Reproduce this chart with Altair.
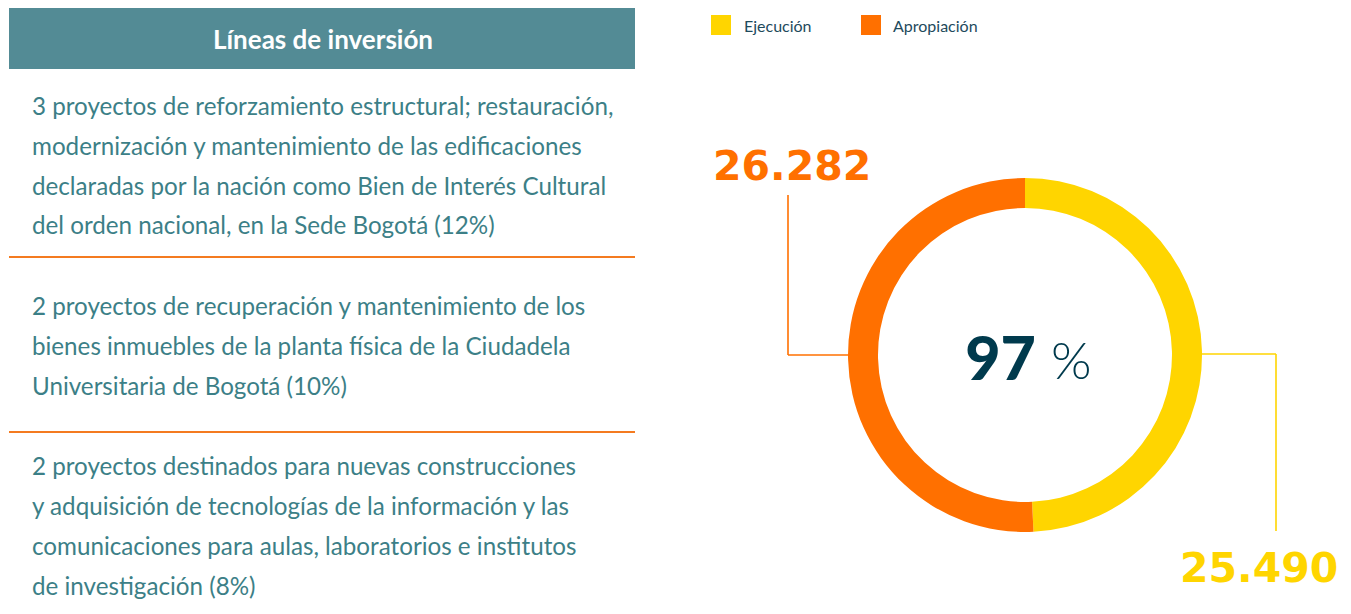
import altair as alt
import pandas as pd

# ---------------- data ----------------
categories = ["Ejecución", "Apropiación"]
values = [25490, 26282]
value_labels = ["25.490", "26.282"]
pct_label = "97"
pct_sign = "%"
colors = ["#FFD500", "#FF7000"]

header_title = "Líneas de inversión"
block1 = [
    "3 proyectos de reforzamiento estructural; restauración,",
    "modernización y mantenimiento de las edificaciones",
    "declaradas por la nación como Bien de Interés Cultural",
    "del orden nacional, en la Sede Bogotá (12%)",
]
block2 = [
    "2 proyectos de recuperación y mantenimiento de los",
    "bienes inmuebles de la planta física de la Ciudadela",
    "Universitaria de Bogotá (10%)",
]
block3 = [
    "2 proyectos destinados para nuevas construcciones",
    "y adquisición de tecnologías de la información y las",
    "comunicaciones para aulas, laboratorios e institutos",
    "de investigación (8%)",
]

# ---------------- layout (page pixel coordinates) ----------------
W, H = 1335, 598
xs = alt.Scale(domain=[8, 8 + W], range=[0, W], nice=False, zero=False)
ys = alt.Scale(domain=[8, 8 + H], range=[0, H], nice=False, zero=False)
TEAL = "#3C7F87"
HEADER = "#538B95"
DARK = "#003A4D"
SEP = "#F47B20"
FONT = "Lato"


def X(f="x"):
    return alt.X(f"{f}:Q", scale=xs, axis=None)


def Y(f="y"):
    return alt.Y(f"{f}:Q", scale=ys, axis=None)


layers = []

# header box
hdr = pd.DataFrame({"x": [9], "x2": [635], "y": [8], "y2": [69]})
layers.append(
    alt.Chart(hdr).mark_rect(color=HEADER).encode(
        x=X(), x2="x2:Q", y=Y(), y2="y2:Q"
    )
)
layers.append(
    alt.Chart(pd.DataFrame({"t": [header_title], "x": [323], "y": [49]}))
    .mark_text(font=FONT, fontSize=26, fontWeight="bold", color="white",
               align="center", baseline="alphabetic")
    .encode(x=X(), y=Y(), text="t:N")
)

# separators
seps = pd.DataFrame({"x": [9, 9], "x2": [635, 635], "y": [257, 432]})
layers.append(
    alt.Chart(seps).mark_rule(color=SEP, strokeWidth=2).encode(
        x=X(), x2="x2:Q", y=Y()
    )
)

# body text
lines = block1 + block2 + block3
line_y = [115, 155, 195, 234, 315, 355, 395, 475, 515, 555, 595]
body = pd.DataFrame({"t": lines, "x": [32] * len(lines), "y": line_y})
layers.append(
    alt.Chart(body)
    .mark_text(font=FONT, fontSize=24.2, color=TEAL, align="left",
               baseline="alphabetic")
    .encode(x=X(), y=Y(), text="t:N")
)

# legend
leg = pd.DataFrame({
    "cat": categories,
    "x": [711, 861], "x2": [731, 881], "y": [15, 15], "y2": [35, 35],
    "tx": [744, 893], "ty": [32, 32],
})
color_scale = alt.Scale(domain=categories, range=colors)
layers.append(
    alt.Chart(leg).mark_rect().encode(
        x=X(), x2="x2:Q", y=Y(), y2="y2:Q",
        color=alt.Color("cat:N", scale=color_scale, legend=None),
    )
)
layers.append(
    alt.Chart(leg)
    .mark_text(font=FONT, fontSize=16, color="#1E4A5C", align="left",
               baseline="alphabetic")
    .encode(x=X("tx"), y=Y("ty"), text="cat:N")
)

# donut
donut = pd.DataFrame({
    "cat": categories, "value": values, "ord": [0, 1],
    "cx": [1025, 1025], "cy": [355, 355],
})
layers.append(
    alt.Chart(donut)
    .mark_arc(radius=177, radius2=147)
    .encode(
        x=X("cx"), y=Y("cy"),
        theta=alt.Theta("value:Q", stack=True),
        order=alt.Order("ord:Q"),
        color=alt.Color("cat:N", scale=color_scale, legend=None),
    )
)

# leader lines
segs = pd.DataFrame({
    "cat": ["Apropiación", "Apropiación", "Ejecución", "Ejecución"],
    "x": [788, 788, 1202, 1276],
    "x2": [788, 850, 1276, 1276],
    "y": [195, 355, 354, 354],
    "y2": [355, 355, 354, 531],
})
layers.append(
    alt.Chart(segs).mark_rule(strokeWidth=1.6).encode(
        x=X(), x2="x2:Q", y=Y(), y2="y2:Q",
        color=alt.Color("cat:N", scale=color_scale, legend=None),
    )
)

# value labels
vals = pd.DataFrame({
    "cat": categories, "t": value_labels,
    "x": [1180, 713], "y": [582, 180],
})
layers.append(
    alt.Chart(vals)
    .mark_text(font="DejaVu Sans", fontSize=41, fontWeight="bold",
               align="left", baseline="alphabetic")
    .encode(x=X(), y=Y(), text="t:N",
            color=alt.Color("cat:N", scale=color_scale, legend=None))
)

# center percentage
layers.append(
    alt.Chart(pd.DataFrame({"t": [pct_label], "x": [1036], "y": [380]}))
    .mark_text(font=FONT, fontSize=61, fontWeight=900, color=DARK,
               align="right", baseline="alphabetic")
    .encode(x=X(), y=Y(), text="t:N")
)
layers.append(
    alt.Chart(pd.DataFrame({"t": [pct_sign], "x": [1051], "y": [379]}))
    .mark_text(font=FONT, fontSize=52, fontWeight=300, color=DARK,
               align="left", baseline="alphabetic")
    .encode(x=X(), y=Y(), text="t:N")
)

chart = (
    alt.layer(*layers)
    .properties(width=W, height=H, padding=0, autosize=alt.AutoSizeParams(type="none"),
                background="white")
    .configure_view(stroke=None)
)

chart.save("out.html", embed_options={"renderer": "svg", "actions": False})
